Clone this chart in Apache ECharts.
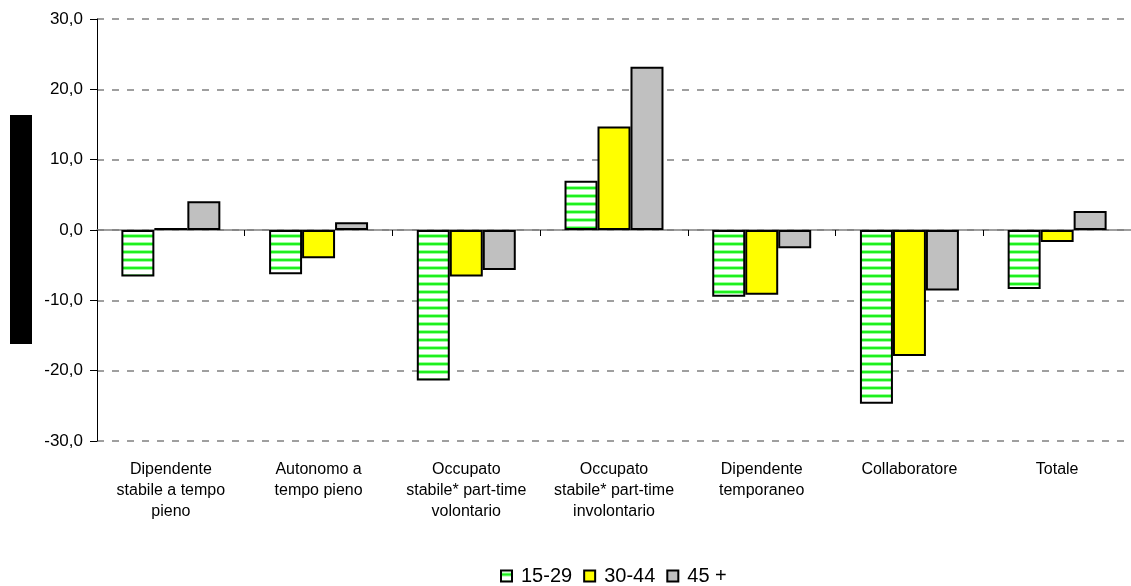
<!DOCTYPE html>
<html>
<head>
<meta charset="utf-8">
<script src="https://cdn.jsdelivr.net/npm/echarts@6/dist/echarts.min.js"></script>
<style>
html,body{margin:0;padding:0;background:#fff;}
#c{width:1131px;height:586px;}
</style>
</head>
<body>
<div id="c"></div>
<script>
var categories = [
  "Dipendente\nstabile a tempo\npieno",
  "Autonomo a\ntempo pieno",
  "Occupato\nstabile* part-time\nvolontario",
  "Occupato\nstabile* part-time\ninvolontario",
  "Dipendente\ntemporaneo",
  "Collaboratore",
  "Totale"
];
var seriesNames = ["15-29", "30-44", "45 +"];
var s1529 = [-6.6, -6.3, -21.4, 7.0, -9.5, -24.7, -8.4];
var s3044 = [0.3, -4.0, -6.6, 14.7, -9.2, -17.9, -1.7];
var s45 = [4.1, 1.1, -5.7, 23.2, -2.6, -8.6, 2.7];

function makePattern() {
  var cv = document.createElement('canvas');
  cv.width = 8; cv.height = 8;
  var ctx = cv.getContext('2d');
  ctx.fillStyle = '#ffffff';
  ctx.fillRect(0, 0, 8, 8);
  ctx.fillStyle = '#9cff9c';
  ctx.fillRect(0, 2, 8, 1);
  ctx.fillRect(0, 5, 8, 1);
  ctx.fillStyle = '#1eef1e';
  ctx.fillRect(0, 3, 8, 2);
  return cv;
}

var chart = echarts.init(document.getElementById('c'), null, {renderer: 'canvas'});
var font = 'Liberation Sans, Arial, sans-serif';
var border = {borderColor: '#000', borderWidth: 2};

chart.setOption({
  animation: false,
  backgroundColor: '#fff',
  grid: {left: 97, top: 19, width: 1043, height: 422, containLabel: false},
  legend: {
    top: 561, left: 495,
    icon: 'rect',
    itemWidth: 11, itemHeight: 11, itemGap: 11,
    textStyle: {fontFamily: font, fontSize: 20, color: '#000', padding: [0, 0, 0, 4]},
    data: seriesNames
  },
  xAxis: [{
    type: 'category', data: categories,
    axisLine: {onZero: true, lineStyle: {color: '#808080', width: 1.5}},
    axisTick: {show: true, length: 6, lineStyle: {color: '#000'}},
    axisLabel: {show: false},
    splitLine: {show: false}
  }, {
    type: 'category', data: categories, position: 'bottom',
    axisLine: {show: false}, axisTick: {show: false},
    axisLabel: {show: true, interval: 0, margin: 18, fontFamily: font, fontSize: 16, color: '#000', lineHeight: 21}
  }],
  yAxis: {
    type: 'value', min: -30, max: 30, interval: 10,
    axisLine: {show: true, lineStyle: {color: '#000', width: 1}},
    axisTick: {show: true, length: 7, lineStyle: {color: '#000'}},
    axisLabel: {
      margin: 14, fontFamily: font, fontSize: 17, color: '#000',
      formatter: function (v) { return v.toFixed(1).replace('.', ','); }
    },
    splitLine: {show: true, lineStyle: {color: '#808080', type: [7, 8], width: 1.5}}
  },
  series: [{
    name: seriesNames[0], type: 'bar', data: s1529, barGap: '0%', barCategoryGap: '33%',
    itemStyle: Object.assign({color: {image: makePattern(), repeat: 'repeat'}}, border)
  }, {
    name: seriesNames[1], type: 'bar', data: s3044,
    itemStyle: Object.assign({color: '#ffff00'}, border)
  }, {
    name: seriesNames[2], type: 'bar', data: s45,
    itemStyle: Object.assign({color: '#c0c0c0'}, border)
  }],
  graphic: [{
    type: 'rect', shape: {x: 10, y: 115, width: 22, height: 229},
    style: {fill: '#000'}
  }]
});
</script>
</body>
</html>
